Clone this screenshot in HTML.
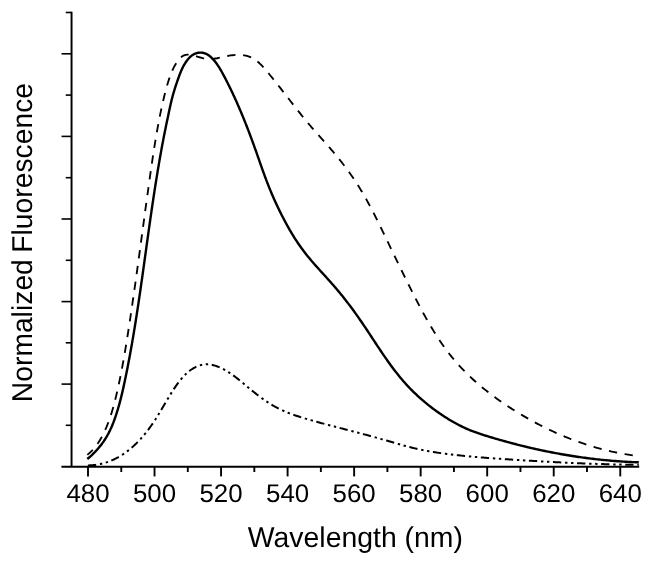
<!DOCTYPE html>
<html><head><meta charset="utf-8"><title>Normalized Fluorescence</title>
<style>
html,body{margin:0;padding:0;background:#fff;}
svg{display:block;}
.ax{stroke:#000;stroke-width:1.95;fill:none;}
.tkl{stroke:#000;stroke-width:1.6;fill:none;}
.tkx{stroke:#000;stroke-width:1.9;fill:none;}
.c{stroke:#000;fill:none;stroke-linejoin:round;}
.so{stroke-width:2.4;}
.da{stroke-width:1.85;stroke-dasharray:8.3 7.63;stroke-dashoffset:0.9;}
.dd{stroke-width:2.0;stroke-dasharray:8.3 3.8 2.4 3.6 2.4 3.6;}
svg{will-change:transform;}
text{text-rendering:geometricPrecision;font-family:"Liberation Sans",Arial,sans-serif;fill:#000;text-anchor:middle;}
.tk{font-size:25.5px;}
.tx{font-size:28px;}
.ti{font-size:28.15px;letter-spacing:0.07px;word-spacing:-1.5px;}
</style></head><body>
<svg width="652" height="565" viewBox="0 0 652 565">
<rect width="652" height="565" fill="#fff"/>
<path d="M61.4,466.7 H639.2" class="ax"/>
<path d="M71.55,11.75 V466.7" class="ax"/>
<path d="M88.00,466.7 v9.7" class="tkx"/>
<path d="M121.27,466.7 v5.3" class="tkx"/>
<path d="M154.53,466.7 v9.7" class="tkx"/>
<path d="M187.80,466.7 v5.3" class="tkx"/>
<path d="M221.06,466.7 v9.7" class="tkx"/>
<path d="M254.33,466.7 v5.3" class="tkx"/>
<path d="M287.60,466.7 v9.7" class="tkx"/>
<path d="M320.86,466.7 v5.3" class="tkx"/>
<path d="M354.13,466.7 v9.7" class="tkx"/>
<path d="M387.39,466.7 v5.3" class="tkx"/>
<path d="M420.66,466.7 v9.7" class="tkx"/>
<path d="M453.93,466.7 v5.3" class="tkx"/>
<path d="M487.19,466.7 v9.7" class="tkx"/>
<path d="M520.46,466.7 v5.3" class="tkx"/>
<path d="M553.72,466.7 v9.7" class="tkx"/>
<path d="M586.99,466.7 v5.3" class="tkx"/>
<path d="M620.26,466.7 v9.7" class="tkx"/>
<path d="M71.55,12.5 h-5.8" class="tkl"/>
<path d="M71.55,53.8 h-10.0" class="tkl"/>
<path d="M71.55,95.1 h-5.8" class="tkl"/>
<path d="M71.55,136.4 h-10.0" class="tkl"/>
<path d="M71.55,177.7 h-5.8" class="tkl"/>
<path d="M71.55,219.0 h-10.0" class="tkl"/>
<path d="M71.55,260.3 h-5.8" class="tkl"/>
<path d="M71.55,301.6 h-10.0" class="tkl"/>
<path d="M71.55,342.8 h-5.8" class="tkl"/>
<path d="M71.55,384.1 h-10.0" class="tkl"/>
<path d="M71.55,425.3 h-5.8" class="tkl"/>
<text transform="translate(88.00,501.6) scale(1.015,1)" class="tk">480</text>
<text transform="translate(154.53,501.6) scale(1.015,1)" class="tk">500</text>
<text transform="translate(221.06,501.6) scale(1.015,1)" class="tk">520</text>
<text transform="translate(287.60,501.6) scale(1.015,1)" class="tk">540</text>
<text transform="translate(354.13,501.6) scale(1.015,1)" class="tk">560</text>
<text transform="translate(420.66,501.6) scale(1.015,1)" class="tk">580</text>
<text transform="translate(487.19,501.6) scale(1.015,1)" class="tk">600</text>
<text transform="translate(553.72,501.6) scale(1.015,1)" class="tk">620</text>
<text transform="translate(620.26,501.6) scale(1.015,1)" class="tk">640</text>
<text transform="translate(355.4,547.3) scale(1.014,1.02)" class="tx">Wavelength (nm)</text>
<text transform="translate(31.5,242.6) rotate(-90) scale(1,1.02)" class="ti">Normalized Fluorescence</text>
<path d="M87.30,454.80 L88.47,453.87 L89.60,452.90 L90.70,451.88 L91.77,450.83 L92.81,449.73 L93.82,448.61 L94.79,447.45 L95.74,446.26 L96.66,445.04 L97.55,443.79 L98.41,442.52 L99.24,441.22 L100.05,439.91 L100.84,438.58 L101.60,437.23 L102.33,435.86 L103.05,434.49 L103.74,433.10 L104.41,431.71 L105.05,430.31 L105.68,428.91 L106.29,427.50 L106.88,426.10 L107.45,424.69 L108.00,423.28 L108.53,421.87 L109.05,420.46 L109.56,419.04 L110.05,417.63 L110.52,416.21 L110.98,414.79 L111.43,413.37 L111.87,411.95 L112.29,410.53 L112.71,409.10 L113.11,407.67 L113.51,406.24 L113.90,404.81 L114.28,403.37 L114.65,401.93 L115.02,400.49 L115.38,399.05 L115.73,397.60 L116.08,396.15 L116.43,394.70 L116.77,393.24 L117.11,391.78 L117.45,390.32 L117.78,388.86 L118.11,387.40 L118.43,385.93 L118.75,384.46 L119.06,382.98 L119.38,381.51 L119.68,380.03 L119.99,378.55 L120.29,377.07 L120.59,375.59 L120.89,374.10 L121.18,372.62 L121.47,371.13 L121.75,369.64 L122.04,368.14 L122.32,366.65 L122.60,365.15 L122.87,363.66 L123.14,362.16 L123.41,360.66 L123.68,359.16 L123.95,357.66 L124.21,356.15 L124.47,354.65 L124.73,353.14 L124.99,351.64 L125.24,350.13 L125.49,348.62 L125.74,347.11 L125.99,345.60 L126.24,344.09 L126.48,342.58 L126.73,341.07 L126.97,339.56 L127.21,338.04 L127.45,336.53 L127.69,335.02 L127.92,333.50 L128.16,331.99 L128.39,330.48 L128.63,328.96 L128.86,327.45 L129.09,325.93 L129.32,324.42 L129.55,322.91 L129.78,321.39 L130.01,319.88 L130.24,318.37 L130.47,316.85 L130.69,315.34 L130.92,313.83 L131.14,312.31 L131.37,310.80 L131.59,309.29 L131.81,307.78 L132.03,306.26 L132.26,304.75 L132.48,303.24 L132.70,301.72 L132.91,300.21 L133.13,298.70 L133.35,297.19 L133.57,295.67 L133.79,294.16 L134.00,292.65 L134.22,291.14 L134.43,289.62 L134.65,288.11 L134.86,286.60 L135.07,285.09 L135.29,283.57 L135.50,282.06 L135.71,280.55 L135.92,279.04 L136.13,277.52 L136.35,276.01 L136.56,274.50 L136.77,272.99 L136.98,271.47 L137.19,269.96 L137.39,268.45 L137.60,266.94 L137.81,265.42 L138.02,263.91 L138.23,262.40 L138.43,260.89 L138.64,259.38 L138.85,257.86 L139.05,256.35 L139.26,254.84 L139.47,253.33 L139.67,251.81 L139.88,250.30 L140.09,248.79 L140.29,247.28 L140.50,245.77 L140.70,244.25 L140.91,242.74 L141.11,241.23 L141.32,239.72 L141.52,238.20 L141.73,236.69 L141.93,235.18 L142.14,233.67 L142.34,232.15 L142.55,230.64 L142.75,229.13 L142.96,227.62 L143.16,226.10 L143.36,224.59 L143.57,223.08 L143.78,221.57 L143.98,220.05 L144.19,218.54 L144.39,217.03 L144.60,215.51 L144.80,214.00 L145.01,212.49 L145.21,210.97 L145.42,209.46 L145.63,207.95 L145.83,206.44 L146.04,204.92 L146.25,203.41 L146.45,201.90 L146.66,200.38 L146.87,198.87 L147.08,197.36 L147.29,195.84 L147.50,194.33 L147.71,192.81 L147.92,191.30 L148.13,189.79 L148.34,188.27 L148.55,186.76 L148.76,185.24 L148.97,183.73 L149.18,182.22 L149.39,180.70 L149.61,179.19 L149.82,177.67 L150.03,176.16 L150.25,174.64 L150.46,173.13 L150.68,171.61 L150.90,170.10 L151.12,168.58 L151.33,167.07 L151.55,165.56 L151.78,164.04 L152.00,162.53 L152.22,161.01 L152.45,159.50 L152.67,157.99 L152.90,156.47 L153.13,154.96 L153.36,153.45 L153.59,151.94 L153.83,150.43 L154.06,148.92 L154.30,147.41 L154.54,145.90 L154.79,144.39 L155.03,142.88 L155.28,141.37 L155.53,139.86 L155.78,138.35 L156.03,136.85 L156.29,135.34 L156.55,133.84 L156.81,132.33 L157.08,130.83 L157.35,129.33 L157.62,127.82 L157.89,126.32 L158.17,124.82 L158.45,123.32 L158.73,121.82 L159.02,120.33 L159.31,118.83 L159.61,117.34 L159.90,115.84 L160.20,114.35 L160.51,112.86 L160.82,111.36 L161.13,109.88 L161.45,108.39 L161.77,106.90 L162.10,105.41 L162.43,103.93 L162.77,102.44 L163.11,100.96 L163.46,99.48 L163.82,98.00 L164.18,96.52 L164.55,95.04 L164.92,93.57 L165.30,92.09 L165.69,90.62 L166.09,89.15 L166.50,87.68 L166.91,86.21 L167.33,84.74 L167.76,83.27 L168.20,81.81 L168.66,80.35 L169.13,78.89 L169.62,77.43 L170.13,75.98 L170.66,74.54 L171.23,73.10 L171.82,71.67 L172.45,70.25 L173.12,68.84 L173.82,67.44 L174.56,66.04 L175.35,64.66 L176.19,63.29 L177.08,61.93 L178.02,60.61 L179.01,59.34 L180.05,58.18 L181.14,57.14 L182.28,56.27 L183.46,55.58 L184.70,55.10 L185.97,54.80 L187.29,54.66 L188.64,54.66 L190.02,54.79 L191.44,55.02 L192.88,55.33 L194.34,55.71 L195.83,56.14 L197.33,56.59 L198.84,57.05 L200.36,57.51 L201.89,57.93 L203.43,58.30 L204.96,58.61 L206.49,58.83 L208.02,58.96 L209.54,59.00 L211.06,58.96 L212.58,58.86 L214.09,58.69 L215.60,58.47 L217.11,58.22 L218.62,57.92 L220.13,57.61 L221.63,57.28 L223.14,56.94 L224.65,56.60 L226.16,56.27 L227.67,55.97 L229.19,55.69 L230.71,55.44 L232.22,55.24 L233.74,55.07 L235.25,54.95 L236.76,54.88 L238.27,54.85 L239.76,54.88 L241.25,54.97 L242.72,55.11 L244.17,55.32 L245.60,55.60 L247.01,55.94 L248.40,56.35 L249.75,56.84 L251.08,57.41 L252.37,58.06 L253.63,58.78 L254.86,59.57 L256.06,60.42 L257.24,61.33 L258.39,62.30 L259.51,63.31 L260.62,64.37 L261.71,65.47 L262.78,66.60 L263.83,67.75 L264.88,68.93 L265.91,70.13 L266.92,71.34 L267.94,72.55 L268.94,73.77 L269.94,74.99 L270.93,76.21 L271.92,77.43 L272.91,78.65 L273.89,79.87 L274.86,81.08 L275.83,82.30 L276.80,83.52 L277.76,84.74 L278.72,85.96 L279.67,87.18 L280.62,88.39 L281.57,89.61 L282.52,90.82 L283.46,92.04 L284.41,93.25 L285.35,94.46 L286.28,95.68 L287.22,96.88 L288.16,98.09 L289.09,99.30 L290.02,100.50 L290.96,101.71 L291.89,102.91 L292.82,104.11 L293.76,105.31 L294.69,106.50 L295.62,107.69 L296.56,108.89 L297.49,110.07 L298.43,111.26 L299.37,112.44 L300.31,113.62 L301.25,114.80 L302.20,115.98 L303.15,117.15 L304.10,118.32 L305.05,119.48 L306.01,120.64 L306.97,121.80 L307.93,122.96 L308.90,124.11 L309.87,125.26 L310.85,126.40 L311.83,127.54 L312.81,128.68 L313.80,129.81 L314.79,130.94 L315.78,132.07 L316.78,133.20 L317.78,134.33 L318.78,135.46 L319.78,136.59 L320.79,137.72 L321.79,138.85 L322.80,139.98 L323.80,141.11 L324.81,142.24 L325.82,143.38 L326.82,144.52 L327.83,145.66 L328.83,146.81 L329.84,147.96 L330.84,149.12 L331.84,150.28 L332.83,151.45 L333.83,152.63 L334.82,153.81 L335.81,154.99 L336.79,156.19 L337.77,157.39 L338.75,158.60 L339.72,159.81 L340.69,161.03 L341.65,162.25 L342.61,163.48 L343.56,164.71 L344.51,165.95 L345.45,167.20 L346.38,168.44 L347.31,169.70 L348.22,170.95 L349.14,172.21 L350.04,173.48 L350.93,174.75 L351.82,176.02 L352.70,177.29 L353.57,178.57 L354.43,179.85 L355.28,181.13 L356.12,182.41 L356.95,183.70 L357.77,184.99 L358.58,186.28 L359.39,187.57 L360.18,188.87 L360.97,190.16 L361.75,191.46 L362.53,192.77 L363.29,194.07 L364.05,195.38 L364.80,196.68 L365.54,197.99 L366.28,199.30 L367.01,200.62 L367.74,201.93 L368.46,203.25 L369.17,204.57 L369.88,205.89 L370.58,207.21 L371.28,208.54 L371.98,209.86 L372.67,211.19 L373.35,212.52 L374.04,213.85 L374.71,215.18 L375.39,216.52 L376.06,217.85 L376.73,219.19 L377.40,220.53 L378.06,221.87 L378.72,223.21 L379.38,224.55 L380.04,225.89 L380.69,227.24 L381.35,228.59 L382.00,229.93 L382.65,231.28 L383.31,232.63 L383.96,233.98 L384.61,235.33 L385.26,236.69 L385.91,238.04 L386.57,239.40 L387.22,240.75 L387.87,242.11 L388.53,243.47 L389.18,244.83 L389.83,246.19 L390.49,247.55 L391.14,248.91 L391.80,250.27 L392.46,251.63 L393.11,252.99 L393.77,254.36 L394.43,255.72 L395.09,257.09 L395.75,258.45 L396.41,259.82 L397.07,261.19 L397.74,262.55 L398.40,263.92 L399.06,265.29 L399.73,266.66 L400.40,268.03 L401.06,269.40 L401.73,270.76 L402.40,272.13 L403.08,273.50 L403.75,274.87 L404.42,276.24 L405.10,277.61 L405.77,278.98 L406.45,280.35 L407.13,281.72 L407.81,283.09 L408.49,284.47 L409.18,285.84 L409.86,287.21 L410.55,288.58 L411.24,289.95 L411.93,291.31 L412.62,292.68 L413.32,294.05 L414.01,295.42 L414.71,296.79 L415.41,298.16 L416.11,299.52 L416.82,300.89 L417.52,302.25 L418.23,303.62 L418.95,304.98 L419.66,306.34 L420.38,307.70 L421.10,309.05 L421.83,310.41 L422.56,311.76 L423.29,313.11 L424.03,314.46 L424.77,315.80 L425.52,317.15 L426.27,318.49 L427.02,319.82 L427.78,321.16 L428.54,322.49 L429.31,323.81 L430.09,325.14 L430.87,326.46 L431.65,327.77 L432.44,329.08 L433.24,330.39 L434.04,331.69 L434.84,332.99 L435.66,334.28 L436.48,335.57 L437.30,336.86 L438.13,338.13 L438.97,339.41 L439.82,340.68 L440.67,341.94 L441.53,343.20 L442.40,344.45 L443.27,345.69 L444.15,346.93 L445.04,348.16 L445.94,349.39 L446.85,350.61 L447.76,351.82 L448.68,353.03 L449.61,354.23 L450.55,355.42 L451.50,356.61 L452.45,357.78 L453.42,358.95 L454.39,360.12 L455.37,361.27 L456.37,362.42 L457.37,363.56 L458.38,364.69 L459.40,365.81 L460.42,366.93 L461.46,368.04 L462.50,369.14 L463.56,370.23 L464.62,371.32 L465.69,372.39 L466.76,373.47 L467.85,374.53 L468.94,375.59 L470.04,376.64 L471.15,377.68 L472.26,378.71 L473.38,379.74 L474.51,380.76 L475.65,381.78 L476.79,382.79 L477.94,383.79 L479.10,384.78 L480.26,385.77 L481.43,386.75 L482.60,387.72 L483.79,388.69 L484.97,389.65 L486.17,390.60 L487.37,391.55 L488.57,392.49 L489.78,393.42 L491.00,394.35 L492.22,395.27 L493.45,396.19 L494.68,397.10 L495.92,398.00 L497.16,398.90 L498.41,399.79 L499.66,400.67 L500.92,401.55 L502.18,402.42 L503.45,403.29 L504.72,404.15 L505.99,405.00 L507.27,405.85 L508.55,406.69 L509.83,407.53 L511.12,408.36 L512.42,409.19 L513.71,410.01 L515.01,410.83 L516.32,411.63 L517.62,412.44 L518.93,413.24 L520.24,414.03 L521.56,414.82 L522.88,415.60 L524.20,416.37 L525.52,417.14 L526.85,417.91 L528.18,418.67 L529.51,419.42 L530.85,420.17 L532.19,420.91 L533.53,421.64 L534.88,422.37 L536.23,423.09 L537.58,423.81 L538.93,424.52 L540.29,425.23 L541.65,425.92 L543.02,426.61 L544.38,427.30 L545.75,427.98 L547.12,428.65 L548.50,429.32 L549.87,429.98 L551.25,430.63 L552.64,431.27 L554.02,431.91 L555.41,432.55 L556.80,433.17 L558.20,433.79 L559.60,434.40 L560.99,435.01 L562.40,435.61 L563.80,436.20 L565.21,436.79 L566.62,437.36 L568.03,437.93 L569.45,438.50 L570.87,439.05 L572.29,439.60 L573.71,440.14 L575.14,440.68 L576.57,441.20 L578.00,441.72 L579.43,442.24 L580.87,442.74 L582.31,443.24 L583.75,443.73 L585.20,444.21 L586.64,444.68 L588.09,445.15 L589.54,445.61 L591.00,446.06 L592.46,446.50 L593.92,446.94 L595.38,447.36 L596.84,447.78 L598.31,448.19 L599.78,448.60 L601.25,448.99 L602.72,449.38 L604.20,449.76 L605.68,450.13 L607.16,450.49 L608.64,450.84 L610.13,451.19 L611.62,451.53 L613.11,451.85 L614.60,452.17 L616.10,452.49 L617.59,452.79 L619.09,453.08 L620.60,453.37 L622.10,453.64 L623.61,453.91 L625.12,454.17 L626.63,454.42 L628.14,454.66 L629.66,454.90 L631.18,455.12 L632.70,455.33 L634.22,455.54 L635.74,455.74 L637.27,455.92 L638.80,456.10" class="c da"/>
<path d="M87.90,465.40 L88.84,465.38 L89.78,465.35 L90.71,465.31 L91.64,465.26 L92.56,465.19 L93.47,465.10 L94.38,465.01 L95.29,464.90 L96.18,464.78 L97.08,464.64 L97.96,464.50 L98.85,464.34 L99.72,464.17 L100.60,463.98 L101.46,463.78 L102.32,463.58 L103.18,463.36 L104.03,463.12 L104.87,462.88 L105.71,462.63 L106.55,462.36 L107.38,462.08 L108.20,461.79 L109.02,461.49 L109.83,461.18 L110.64,460.86 L111.44,460.53 L112.24,460.19 L113.03,459.84 L113.82,459.48 L114.60,459.11 L115.38,458.72 L116.15,458.33 L116.92,457.93 L117.68,457.52 L118.43,457.10 L119.19,456.67 L119.93,456.23 L120.67,455.79 L121.41,455.33 L122.14,454.87 L122.87,454.40 L123.59,453.91 L124.30,453.42 L125.02,452.93 L125.72,452.42 L126.42,451.91 L127.12,451.39 L127.81,450.86 L128.50,450.32 L129.18,449.78 L129.86,449.23 L130.53,448.67 L131.20,448.11 L131.86,447.54 L132.52,446.96 L133.17,446.37 L133.82,445.78 L134.46,445.19 L135.10,444.58 L135.74,443.97 L136.37,443.36 L136.99,442.74 L137.61,442.11 L138.23,441.48 L138.84,440.84 L139.44,440.20 L140.04,439.55 L140.64,438.90 L141.23,438.25 L141.82,437.58 L142.40,436.92 L142.98,436.25 L143.56,435.57 L144.13,434.89 L144.69,434.21 L145.25,433.52 L145.81,432.83 L146.36,432.14 L146.91,431.44 L147.45,430.74 L147.99,430.04 L148.52,429.33 L149.05,428.62 L149.58,427.91 L150.10,427.20 L150.61,426.48 L151.13,425.76 L151.63,425.04 L152.14,424.31 L152.64,423.58 L153.13,422.86 L153.62,422.13 L154.11,421.39 L154.59,420.66 L155.07,419.93 L155.55,419.19 L156.02,418.45 L156.48,417.72 L156.95,416.98 L157.41,416.24 L157.87,415.49 L158.33,414.75 L158.78,414.01 L159.23,413.26 L159.68,412.51 L160.13,411.77 L160.58,411.02 L161.02,410.27 L161.47,409.52 L161.91,408.77 L162.35,408.02 L162.80,407.27 L163.24,406.51 L163.68,405.76 L164.12,405.00 L164.57,404.25 L165.01,403.49 L165.45,402.74 L165.90,401.98 L166.34,401.22 L166.79,400.47 L167.24,399.71 L167.69,398.95 L168.15,398.19 L168.60,397.44 L169.06,396.68 L169.52,395.92 L169.98,395.16 L170.45,394.40 L170.92,393.64 L171.39,392.88 L171.87,392.13 L172.35,391.37 L172.84,390.61 L173.33,389.85 L173.82,389.09 L174.32,388.34 L174.82,387.58 L175.33,386.83 L175.85,386.08 L176.37,385.33 L176.89,384.59 L177.42,383.85 L177.96,383.11 L178.51,382.38 L179.06,381.66 L179.62,380.94 L180.18,380.23 L180.75,379.53 L181.33,378.84 L181.92,378.15 L182.52,377.48 L183.12,376.81 L183.73,376.16 L184.35,375.51 L184.98,374.88 L185.62,374.26 L186.26,373.65 L186.92,373.05 L187.59,372.47 L188.26,371.90 L188.95,371.35 L189.64,370.81 L190.35,370.29 L191.06,369.78 L191.79,369.29 L192.52,368.82 L193.26,368.37 L194.01,367.94 L194.77,367.53 L195.54,367.14 L196.31,366.78 L197.09,366.43 L197.87,366.11 L198.66,365.81 L199.46,365.54 L200.26,365.30 L201.06,365.08 L201.87,364.88 L202.68,364.72 L203.50,364.58 L204.32,364.48 L205.14,364.40 L205.96,364.35 L206.79,364.34 L207.62,364.35 L208.44,364.40 L209.27,364.47 L210.10,364.57 L210.93,364.69 L211.76,364.84 L212.59,365.01 L213.42,365.21 L214.24,365.42 L215.06,365.66 L215.89,365.92 L216.70,366.20 L217.52,366.50 L218.33,366.81 L219.14,367.14 L219.94,367.49 L220.74,367.85 L221.53,368.22 L222.32,368.61 L223.10,369.00 L223.88,369.41 L224.65,369.84 L225.42,370.27 L226.18,370.71 L226.94,371.16 L227.69,371.63 L228.44,372.10 L229.18,372.58 L229.92,373.07 L230.66,373.57 L231.39,374.07 L232.12,374.59 L232.85,375.11 L233.57,375.63 L234.29,376.17 L235.01,376.70 L235.72,377.25 L236.43,377.80 L237.14,378.35 L237.85,378.91 L238.55,379.47 L239.25,380.03 L239.95,380.60 L240.65,381.17 L241.35,381.74 L242.04,382.32 L242.73,382.89 L243.43,383.47 L244.12,384.04 L244.81,384.62 L245.50,385.20 L246.19,385.77 L246.88,386.35 L247.56,386.92 L248.25,387.50 L248.94,388.07 L249.63,388.63 L250.32,389.20 L251.01,389.77 L251.70,390.33 L252.39,390.89 L253.08,391.44 L253.77,392.00 L254.46,392.55 L255.15,393.10 L255.84,393.65 L256.54,394.19 L257.23,394.73 L257.93,395.26 L258.63,395.80 L259.33,396.33 L260.03,396.85 L260.73,397.37 L261.44,397.89 L262.14,398.41 L262.85,398.91 L263.56,399.42 L264.27,399.92 L264.99,400.42 L265.71,400.91 L266.43,401.40 L267.15,401.88 L267.87,402.36 L268.60,402.83 L269.33,403.29 L270.07,403.76 L270.80,404.21 L271.54,404.66 L272.29,405.11 L273.03,405.54 L273.78,405.98 L274.54,406.40 L275.29,406.83 L276.06,407.24 L276.82,407.65 L277.59,408.05 L278.36,408.44 L279.14,408.83 L279.92,409.21 L280.70,409.59 L281.49,409.96 L282.29,410.32 L283.08,410.68 L283.88,411.03 L284.68,411.38 L285.49,411.72 L286.30,412.05 L287.11,412.38 L287.92,412.71 L288.74,413.03 L289.56,413.34 L290.38,413.65 L291.20,413.96 L292.03,414.26 L292.86,414.56 L293.69,414.86 L294.53,415.15 L295.36,415.43 L296.20,415.71 L297.04,415.99 L297.88,416.27 L298.72,416.54 L299.56,416.81 L300.41,417.08 L301.26,417.34 L302.10,417.60 L302.95,417.86 L303.80,418.12 L304.65,418.37 L305.50,418.63 L306.35,418.88 L307.21,419.12 L308.06,419.37 L308.91,419.62 L309.77,419.86 L310.62,420.10 L311.47,420.34 L312.33,420.58 L313.18,420.82 L314.03,421.06 L314.88,421.30 L315.74,421.54 L316.59,421.77 L317.44,422.01 L318.30,422.24 L319.15,422.47 L320.00,422.71 L320.85,422.94 L321.71,423.17 L322.56,423.40 L323.41,423.63 L324.26,423.86 L325.12,424.09 L325.97,424.32 L326.82,424.54 L327.67,424.77 L328.53,425.00 L329.38,425.22 L330.23,425.45 L331.08,425.67 L331.93,425.90 L332.79,426.12 L333.64,426.35 L334.49,426.57 L335.34,426.79 L336.19,427.02 L337.05,427.24 L337.90,427.46 L338.75,427.68 L339.60,427.91 L340.45,428.13 L341.31,428.35 L342.16,428.57 L343.01,428.79 L343.86,429.02 L344.71,429.24 L345.57,429.46 L346.42,429.68 L347.27,429.90 L348.12,430.12 L348.97,430.35 L349.83,430.57 L350.68,430.79 L351.53,431.01 L352.38,431.23 L353.24,431.46 L354.09,431.68 L354.94,431.90 L355.79,432.13 L356.64,432.35 L357.50,432.57 L358.35,432.80 L359.20,433.02 L360.05,433.25 L360.91,433.47 L361.76,433.70 L362.61,433.93 L363.47,434.16 L364.32,434.38 L365.17,434.61 L366.02,434.84 L366.88,435.07 L367.73,435.30 L368.58,435.53 L369.44,435.76 L370.29,436.00 L371.14,436.23 L372.00,436.46 L372.85,436.70 L373.70,436.93 L374.56,437.17 L375.41,437.41 L376.27,437.65 L377.12,437.88 L377.97,438.12 L378.83,438.37 L379.68,438.61 L380.54,438.85 L381.39,439.10 L382.25,439.34 L383.10,439.59 L383.96,439.83 L384.81,440.08 L385.67,440.33 L386.52,440.58 L387.38,440.83 L388.23,441.08 L389.09,441.33 L389.94,441.57 L390.80,441.82 L391.65,442.07 L392.51,442.32 L393.37,442.57 L394.22,442.82 L395.08,443.07 L395.94,443.31 L396.79,443.56 L397.65,443.80 L398.51,444.05 L399.36,444.29 L400.22,444.53 L401.08,444.77 L401.94,445.01 L402.79,445.25 L403.65,445.49 L404.51,445.72 L405.37,445.95 L406.23,446.18 L407.08,446.41 L407.94,446.64 L408.80,446.86 L409.66,447.08 L410.52,447.30 L411.38,447.52 L412.24,447.73 L413.10,447.94 L413.96,448.15 L414.82,448.35 L415.68,448.56 L416.54,448.75 L417.40,448.95 L418.26,449.14 L419.12,449.33 L419.98,449.52 L420.85,449.70 L421.71,449.88 L422.57,450.05 L423.43,450.22 L424.29,450.39 L425.16,450.56 L426.02,450.72 L426.88,450.89 L427.75,451.04 L428.61,451.20 L429.47,451.35 L430.34,451.50 L431.20,451.65 L432.07,451.80 L432.93,451.94 L433.80,452.08 L434.66,452.22 L435.53,452.35 L436.39,452.49 L437.26,452.62 L438.12,452.75 L438.99,452.88 L439.86,453.00 L440.72,453.12 L441.59,453.25 L442.46,453.37 L443.32,453.48 L444.19,453.60 L445.06,453.71 L445.93,453.83 L446.80,453.94 L447.67,454.05 L448.54,454.16 L449.40,454.26 L450.27,454.37 L451.14,454.47 L452.01,454.57 L452.89,454.68 L453.76,454.78 L454.63,454.88 L455.50,454.97 L456.37,455.07 L457.24,455.17 L458.11,455.26 L458.99,455.36 L459.86,455.45 L460.73,455.54 L461.61,455.63 L462.48,455.72 L463.35,455.81 L464.23,455.90 L465.10,455.98 L465.98,456.07 L466.85,456.15 L467.72,456.24 L468.60,456.32 L469.48,456.40 L470.35,456.48 L471.23,456.56 L472.10,456.64 L472.98,456.72 L473.86,456.80 L474.73,456.88 L475.61,456.95 L476.49,457.03 L477.36,457.10 L478.24,457.18 L479.12,457.25 L480.00,457.32 L480.88,457.40 L481.75,457.47 L482.63,457.54 L483.51,457.61 L484.39,457.68 L485.27,457.75 L486.15,457.81 L487.03,457.88 L487.91,457.95 L488.79,458.01 L489.67,458.08 L490.55,458.14 L491.43,458.21 L492.31,458.27 L493.19,458.34 L494.07,458.40 L494.95,458.46 L495.83,458.53 L496.71,458.59 L497.60,458.65 L498.48,458.71 L499.36,458.77 L500.24,458.83 L501.12,458.89 L502.01,458.95 L502.89,459.01 L503.77,459.07 L504.65,459.13 L505.54,459.19 L506.42,459.25 L507.30,459.31 L508.19,459.37 L509.07,459.42 L509.95,459.48 L510.84,459.54 L511.72,459.60 L512.60,459.65 L513.49,459.71 L514.37,459.77 L515.25,459.82 L516.14,459.88 L517.02,459.94 L517.91,459.99 L518.79,460.05 L519.68,460.10 L520.56,460.16 L521.45,460.21 L522.33,460.27 L523.21,460.32 L524.10,460.38 L524.98,460.43 L525.87,460.49 L526.75,460.54 L527.64,460.59 L528.53,460.65 L529.41,460.70 L530.30,460.75 L531.18,460.81 L532.07,460.86 L532.95,460.91 L533.84,460.96 L534.72,461.01 L535.61,461.07 L536.49,461.12 L537.38,461.17 L538.27,461.22 L539.15,461.27 L540.04,461.32 L540.92,461.37 L541.81,461.42 L542.69,461.47 L543.58,461.52 L544.47,461.57 L545.35,461.62 L546.24,461.66 L547.12,461.71 L548.01,461.76 L548.90,461.81 L549.78,461.85 L550.67,461.90 L551.55,461.95 L552.44,461.99 L553.33,462.04 L554.21,462.09 L555.10,462.13 L555.98,462.18 L556.87,462.22 L557.75,462.27 L558.64,462.31 L559.53,462.35 L560.41,462.40 L561.30,462.44 L562.18,462.48 L563.07,462.53 L563.95,462.57 L564.84,462.61 L565.72,462.65 L566.61,462.70 L567.50,462.74 L568.38,462.78 L569.27,462.82 L570.15,462.86 L571.04,462.90 L571.92,462.94 L572.81,462.98 L573.69,463.01 L574.58,463.05 L575.46,463.09 L576.35,463.13 L577.23,463.17 L578.11,463.20 L579.00,463.24 L579.88,463.28 L580.77,463.31 L581.65,463.35 L582.54,463.38 L583.42,463.42 L584.30,463.45 L585.19,463.49 L586.07,463.52 L586.95,463.56 L587.84,463.59 L588.72,463.62 L589.60,463.65 L590.49,463.69 L591.37,463.72 L592.25,463.75 L593.14,463.78 L594.02,463.81 L594.90,463.84 L595.78,463.87 L596.67,463.90 L597.55,463.93 L598.43,463.96 L599.31,463.98 L600.19,464.01 L601.07,464.04 L601.96,464.07 L602.84,464.09 L603.72,464.12 L604.60,464.14 L605.48,464.17 L606.36,464.19 L607.24,464.22 L608.12,464.24 L609.00,464.27 L609.88,464.29 L610.76,464.31 L611.64,464.33 L612.52,464.36 L613.40,464.38 L614.28,464.40 L615.16,464.42 L616.03,464.44 L616.91,464.46 L617.79,464.48 L618.67,464.50 L619.55,464.51 L620.42,464.53 L621.30,464.55 L622.18,464.57 L623.05,464.58 L623.93,464.60 L624.81,464.61 L625.68,464.63 L626.56,464.64 L627.44,464.66 L628.31,464.67 L629.19,464.69 L630.06,464.70 L630.94,464.71 L631.81,464.72 L632.69,464.73 L633.56,464.74 L634.43,464.76 L635.31,464.77 L636.18,464.77 L637.05,464.78 L637.93,464.79 L638.80,464.80" class="c dd"/>
<path d="M87.30,459.00 L88.47,458.04 L89.62,457.06 L90.77,456.05 L91.90,455.02 L93.01,453.96 L94.11,452.87 L95.19,451.76 L96.25,450.63 L97.29,449.47 L98.32,448.30 L99.32,447.10 L100.31,445.88 L101.27,444.65 L102.21,443.39 L103.13,442.12 L104.02,440.83 L104.89,439.52 L105.73,438.20 L106.54,436.86 L107.33,435.51 L108.09,434.15 L108.82,432.77 L109.52,431.39 L110.20,429.99 L110.85,428.58 L111.48,427.17 L112.09,425.74 L112.68,424.31 L113.25,422.87 L113.80,421.43 L114.33,419.98 L114.85,418.52 L115.36,417.07 L115.85,415.61 L116.34,414.14 L116.81,412.68 L117.27,411.21 L117.71,409.74 L118.15,408.26 L118.58,406.78 L119.00,405.30 L119.41,403.82 L119.81,402.34 L120.20,400.85 L120.59,399.36 L120.97,397.87 L121.34,396.38 L121.70,394.88 L122.06,393.38 L122.41,391.88 L122.76,390.38 L123.10,388.88 L123.43,387.37 L123.76,385.87 L124.09,384.36 L124.42,382.85 L124.74,381.34 L125.06,379.82 L125.37,378.31 L125.69,376.79 L126.00,375.27 L126.31,373.75 L126.61,372.23 L126.92,370.71 L127.22,369.19 L127.52,367.66 L127.82,366.14 L128.11,364.61 L128.41,363.08 L128.70,361.56 L128.99,360.03 L129.27,358.50 L129.56,356.97 L129.84,355.44 L130.12,353.91 L130.40,352.37 L130.68,350.84 L130.95,349.31 L131.23,347.77 L131.50,346.24 L131.77,344.71 L132.04,343.17 L132.30,341.64 L132.56,340.11 L132.83,338.57 L133.09,337.04 L133.35,335.50 L133.60,333.97 L133.86,332.44 L134.11,330.90 L134.37,329.37 L134.62,327.84 L134.87,326.30 L135.11,324.77 L135.36,323.24 L135.60,321.70 L135.85,320.17 L136.09,318.64 L136.33,317.11 L136.57,315.57 L136.81,314.04 L137.04,312.51 L137.28,310.98 L137.51,309.45 L137.75,307.91 L137.98,306.38 L138.21,304.85 L138.44,303.32 L138.67,301.79 L138.90,300.26 L139.12,298.73 L139.35,297.19 L139.57,295.66 L139.80,294.13 L140.02,292.60 L140.24,291.07 L140.47,289.54 L140.69,288.01 L140.91,286.48 L141.13,284.95 L141.34,283.42 L141.56,281.89 L141.78,280.36 L142.00,278.83 L142.21,277.30 L142.43,275.77 L142.64,274.24 L142.86,272.71 L143.07,271.18 L143.29,269.65 L143.50,268.12 L143.71,266.59 L143.93,265.06 L144.14,263.53 L144.35,262.00 L144.57,260.47 L144.78,258.94 L144.99,257.42 L145.20,255.89 L145.41,254.36 L145.62,252.83 L145.84,251.30 L146.05,249.77 L146.26,248.24 L146.47,246.71 L146.68,245.18 L146.90,243.65 L147.11,242.13 L147.32,240.60 L147.53,239.07 L147.75,237.54 L147.96,236.01 L148.17,234.48 L148.39,232.95 L148.60,231.42 L148.81,229.90 L149.03,228.37 L149.24,226.84 L149.46,225.31 L149.68,223.78 L149.89,222.25 L150.11,220.72 L150.33,219.19 L150.55,217.67 L150.77,216.14 L150.99,214.61 L151.21,213.08 L151.43,211.55 L151.65,210.02 L151.88,208.49 L152.10,206.96 L152.33,205.44 L152.55,203.91 L152.78,202.38 L153.01,200.85 L153.24,199.32 L153.47,197.79 L153.70,196.26 L153.93,194.73 L154.16,193.20 L154.40,191.68 L154.63,190.15 L154.87,188.62 L155.11,187.09 L155.35,185.56 L155.59,184.03 L155.83,182.50 L156.08,180.97 L156.32,179.44 L156.57,177.91 L156.82,176.38 L157.07,174.85 L157.32,173.32 L157.57,171.79 L157.82,170.26 L158.08,168.73 L158.34,167.21 L158.60,165.68 L158.86,164.15 L159.12,162.62 L159.38,161.08 L159.65,159.55 L159.92,158.02 L160.19,156.49 L160.46,154.96 L160.73,153.43 L161.01,151.90 L161.29,150.37 L161.57,148.84 L161.85,147.31 L162.13,145.78 L162.42,144.25 L162.71,142.72 L163.00,141.19 L163.29,139.65 L163.59,138.12 L163.88,136.59 L164.18,135.06 L164.49,133.53 L164.79,132.00 L165.10,130.46 L165.41,128.93 L165.72,127.40 L166.03,125.87 L166.35,124.33 L166.67,122.80 L166.99,121.27 L167.31,119.74 L167.64,118.21 L167.96,116.68 L168.29,115.15 L168.61,113.62 L168.94,112.09 L169.27,110.57 L169.59,109.05 L169.92,107.53 L170.24,106.01 L170.58,104.50 L170.92,102.99 L171.27,101.48 L171.64,99.98 L172.01,98.48 L172.41,96.99 L172.81,95.50 L173.23,94.01 L173.65,92.53 L174.09,91.06 L174.53,89.59 L174.99,88.13 L175.46,86.67 L175.93,85.22 L176.41,83.77 L176.90,82.34 L177.39,80.91 L177.89,79.48 L178.40,78.07 L178.91,76.66 L179.42,75.26 L179.95,73.87 L180.50,72.49 L181.07,71.11 L181.66,69.75 L182.29,68.39 L182.95,67.05 L183.66,65.71 L184.42,64.39 L185.23,63.07 L186.09,61.77 L187.02,60.48 L188.01,59.23 L189.07,58.03 L190.18,56.91 L191.36,55.88 L192.61,54.96 L193.92,54.17 L195.29,53.54 L196.73,53.06 L198.21,52.75 L199.71,52.60 L201.21,52.61 L202.70,52.78 L204.15,53.10 L205.55,53.58 L206.89,54.20 L208.17,54.95 L209.40,55.82 L210.58,56.79 L211.71,57.83 L212.79,58.95 L213.83,60.12 L214.83,61.33 L215.80,62.57 L216.72,63.83 L217.62,65.10 L218.48,66.40 L219.32,67.71 L220.14,69.04 L220.93,70.38 L221.70,71.73 L222.46,73.10 L223.21,74.47 L223.94,75.84 L224.67,77.23 L225.39,78.61 L226.10,80.00 L226.81,81.39 L227.52,82.78 L228.22,84.18 L228.91,85.57 L229.60,86.98 L230.28,88.38 L230.96,89.78 L231.64,91.19 L232.30,92.60 L232.97,94.02 L233.63,95.43 L234.28,96.85 L234.93,98.27 L235.58,99.69 L236.22,101.11 L236.85,102.54 L237.48,103.97 L238.11,105.39 L238.73,106.83 L239.35,108.26 L239.97,109.69 L240.58,111.13 L241.18,112.56 L241.78,114.00 L242.38,115.44 L242.97,116.88 L243.56,118.32 L244.15,119.77 L244.73,121.21 L245.31,122.66 L245.88,124.10 L246.45,125.55 L247.02,127.00 L247.58,128.45 L248.14,129.90 L248.70,131.35 L249.25,132.80 L249.80,134.25 L250.35,135.70 L250.89,137.16 L251.43,138.61 L251.97,140.06 L252.51,141.52 L253.04,142.97 L253.56,144.43 L254.09,145.88 L254.61,147.33 L255.13,148.79 L255.65,150.24 L256.16,151.69 L256.68,153.15 L257.19,154.60 L257.69,156.05 L258.20,157.51 L258.71,158.96 L259.22,160.41 L259.72,161.86 L260.23,163.31 L260.74,164.76 L261.25,166.21 L261.76,167.65 L262.27,169.10 L262.78,170.55 L263.30,171.99 L263.82,173.43 L264.35,174.88 L264.88,176.32 L265.41,177.76 L265.95,179.20 L266.49,180.63 L267.04,182.07 L267.59,183.50 L268.16,184.93 L268.72,186.37 L269.30,187.79 L269.88,189.22 L270.47,190.65 L271.06,192.07 L271.66,193.49 L272.26,194.91 L272.88,196.33 L273.50,197.74 L274.12,199.16 L274.75,200.57 L275.39,201.98 L276.04,203.38 L276.69,204.79 L277.35,206.19 L278.01,207.59 L278.68,208.98 L279.36,210.38 L280.04,211.77 L280.73,213.15 L281.43,214.54 L282.13,215.92 L282.84,217.30 L283.56,218.67 L284.28,220.05 L285.01,221.42 L285.74,222.78 L286.48,224.14 L287.23,225.50 L287.99,226.86 L288.75,228.21 L289.52,229.55 L290.30,230.90 L291.09,232.23 L291.88,233.56 L292.69,234.89 L293.50,236.21 L294.32,237.53 L295.15,238.83 L295.99,240.14 L296.84,241.43 L297.70,242.72 L298.57,244.00 L299.45,245.28 L300.34,246.55 L301.24,247.81 L302.15,249.06 L303.07,250.31 L304.01,251.54 L304.95,252.77 L305.91,253.99 L306.87,255.20 L307.85,256.41 L308.83,257.61 L309.83,258.80 L310.82,259.98 L311.83,261.17 L312.84,262.34 L313.86,263.51 L314.89,264.68 L315.91,265.84 L316.94,267.00 L317.98,268.15 L319.01,269.30 L320.05,270.45 L321.09,271.60 L322.13,272.74 L323.17,273.89 L324.20,275.03 L325.24,276.17 L326.27,277.31 L327.30,278.45 L328.33,279.59 L329.35,280.73 L330.37,281.88 L331.38,283.02 L332.39,284.17 L333.40,285.32 L334.40,286.47 L335.39,287.63 L336.38,288.79 L337.37,289.95 L338.35,291.12 L339.33,292.30 L340.30,293.48 L341.27,294.67 L342.24,295.87 L343.20,297.07 L344.15,298.27 L345.11,299.48 L346.06,300.69 L347.00,301.91 L347.94,303.14 L348.87,304.37 L349.81,305.60 L350.73,306.84 L351.66,308.08 L352.58,309.33 L353.49,310.58 L354.40,311.83 L355.31,313.09 L356.22,314.35 L357.11,315.62 L358.01,316.89 L358.90,318.16 L359.79,319.44 L360.67,320.71 L361.56,322.00 L362.43,323.28 L363.31,324.57 L364.18,325.86 L365.04,327.15 L365.91,328.44 L366.77,329.73 L367.63,331.03 L368.49,332.33 L369.35,333.63 L370.20,334.92 L371.06,336.22 L371.91,337.52 L372.77,338.82 L373.62,340.12 L374.48,341.42 L375.33,342.72 L376.19,344.02 L377.04,345.31 L377.90,346.61 L378.76,347.90 L379.62,349.19 L380.49,350.48 L381.35,351.77 L382.22,353.05 L383.09,354.34 L383.97,355.61 L384.85,356.89 L385.73,358.16 L386.62,359.43 L387.51,360.70 L388.40,361.96 L389.31,363.22 L390.21,364.47 L391.12,365.72 L392.04,366.96 L392.96,368.20 L393.89,369.43 L394.83,370.66 L395.77,371.88 L396.72,373.09 L397.68,374.30 L398.64,375.50 L399.62,376.70 L400.60,377.89 L401.59,379.07 L402.59,380.24 L403.60,381.41 L404.61,382.56 L405.64,383.71 L406.68,384.86 L407.72,385.99 L408.78,387.11 L409.85,388.23 L410.92,389.34 L412.01,390.44 L413.11,391.53 L414.21,392.61 L415.33,393.68 L416.45,394.74 L417.58,395.80 L418.72,396.84 L419.87,397.88 L421.03,398.91 L422.20,399.93 L423.38,400.94 L424.56,401.94 L425.75,402.93 L426.95,403.91 L428.16,404.89 L429.38,405.85 L430.60,406.80 L431.84,407.75 L433.08,408.68 L434.32,409.61 L435.58,410.53 L436.84,411.43 L438.11,412.33 L439.38,413.22 L440.66,414.10 L441.95,414.97 L443.25,415.83 L444.55,416.68 L445.86,417.51 L447.17,418.34 L448.50,419.16 L449.82,419.97 L451.15,420.76 L452.49,421.54 L453.84,422.31 L455.19,423.07 L456.54,423.81 L457.90,424.53 L459.26,425.24 L460.63,425.94 L462.01,426.62 L463.39,427.29 L464.77,427.93 L466.16,428.56 L467.55,429.17 L468.94,429.77 L470.34,430.34 L471.75,430.90 L473.15,431.44 L474.56,431.97 L475.98,432.48 L477.39,432.98 L478.81,433.47 L480.24,433.95 L481.66,434.41 L483.09,434.87 L484.52,435.33 L485.95,435.77 L487.39,436.21 L488.82,436.65 L490.26,437.08 L491.70,437.51 L493.15,437.94 L494.59,438.36 L496.04,438.78 L497.49,439.20 L498.94,439.62 L500.39,440.03 L501.85,440.44 L503.31,440.85 L504.77,441.26 L506.23,441.66 L507.70,442.06 L509.16,442.46 L510.63,442.86 L512.10,443.25 L513.58,443.64 L515.05,444.03 L516.53,444.41 L518.01,444.79 L519.50,445.17 L520.98,445.54 L522.47,445.91 L523.96,446.28 L525.45,446.64 L526.94,447.00 L528.44,447.36 L529.94,447.71 L531.44,448.06 L532.94,448.40 L534.44,448.74 L535.94,449.08 L537.45,449.41 L538.96,449.74 L540.47,450.07 L541.98,450.39 L543.49,450.71 L545.01,451.02 L546.52,451.33 L548.04,451.64 L549.56,451.94 L551.08,452.24 L552.60,452.54 L554.13,452.83 L555.65,453.12 L557.18,453.40 L558.70,453.68 L560.23,453.96 L561.76,454.23 L563.29,454.50 L564.82,454.76 L566.35,455.02 L567.89,455.28 L569.42,455.53 L570.96,455.77 L572.49,456.02 L574.03,456.26 L575.57,456.49 L577.11,456.72 L578.64,456.95 L580.18,457.17 L581.72,457.39 L583.27,457.60 L584.81,457.81 L586.35,458.02 L587.89,458.22 L589.43,458.42 L590.98,458.61 L592.52,458.80 L594.06,458.98 L595.61,459.16 L597.15,459.33 L598.70,459.50 L600.24,459.67 L601.79,459.83 L603.33,459.99 L604.88,460.14 L606.42,460.28 L607.97,460.43 L609.51,460.57 L611.06,460.70 L612.60,460.83 L614.15,460.95 L615.69,461.07 L617.23,461.19 L618.78,461.30 L620.32,461.40 L621.86,461.51 L623.41,461.60 L624.95,461.69 L626.49,461.78 L628.03,461.86 L629.57,461.94 L631.11,462.01 L632.65,462.08 L634.19,462.14 L635.73,462.20 L637.26,462.25 L638.80,462.30" class="c so"/>
</svg>
</body></html>
